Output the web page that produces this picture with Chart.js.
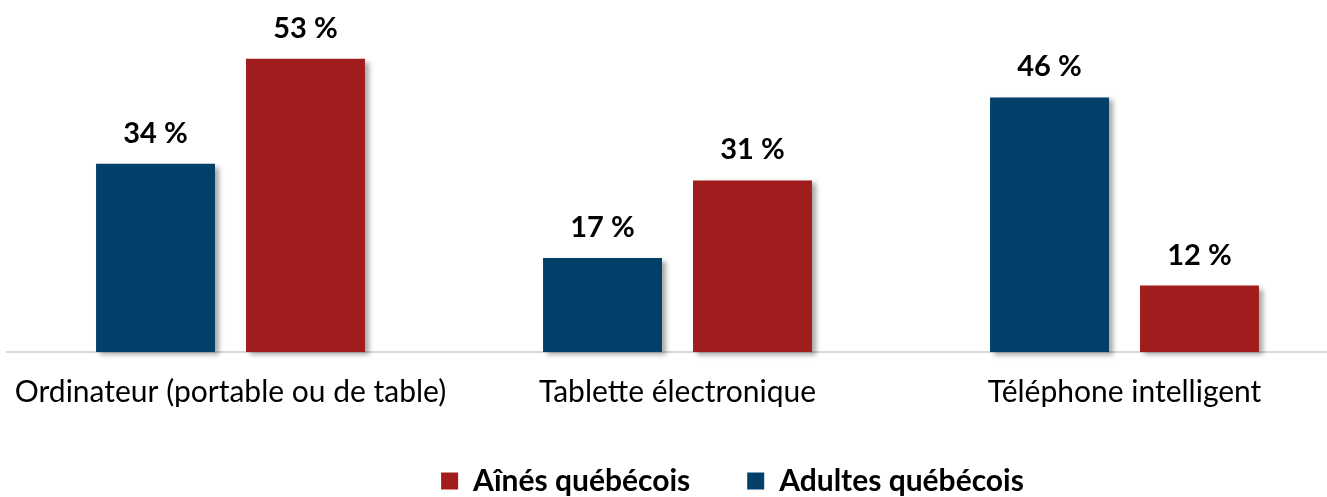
<!DOCTYPE html>
<html lang="fr">
<head>
<meta charset="utf-8">
<script src="https://cdn.jsdelivr.net/npm/chart.js@4.4.1/dist/chart.umd.min.js"></script>
<style>
  html, body { margin: 0; padding: 0; background: #fff; overflow: hidden; }
  #wrap { width: 1327px; height: 497px; overflow: hidden; }
</style>
</head>
<body>
<div id="wrap"><canvas id="deviceChart" width="1458" height="506"></canvas></div>
<script>
const categories = ['Ordinateur (portable ou de table)', 'Tablette électronique', 'Téléphone intelligent'];
const adultesValues = [34, 17, 46];
const ainesValues = [53, 31, 12];
const seriesNames = ['Adultes québécois', 'Aînés québécois'];

const FONT = 'Lato, "Open Sans", sans-serif';
const BLUE = '#02406a';
const RED = '#a11c1c';

// soft drop shadow under the bars
const barShadow = {
    id: 'barShadow',
    beforeDatasetsDraw(chart) {
        const c = chart.ctx;
        c.save();
        c.shadowColor = 'rgba(0,0,0,0.35)';
        c.shadowBlur = 5;
        c.shadowOffsetX = 4;
        c.shadowOffsetY = 3;
    },
    afterDatasetsDraw(chart) {
        chart.ctx.restore();
    }
};

// "NN %" above each bar
const valueLabels = {
    id: 'valueLabels',
    afterDatasetsDraw(chart) {
        const c = chart.ctx;
        c.save();
        c.font = `bold 29px ${FONT}`;
        c.fillStyle = '#000';
        c.textAlign = 'center';
        c.textBaseline = 'alphabetic';
        chart.data.datasets.forEach((ds, i) => {
            chart.getDatasetMeta(i).data.forEach((bar, j) => {
                c.fillText(`${ds.data[j]} %`, bar.x, bar.y - 21);
            });
        });
        c.restore();
    }
};

new Chart(document.getElementById('deviceChart'), {
    type: 'bar',
    data: {
        labels: categories,
        datasets: [
            { label: seriesNames[0], data: adultesValues, backgroundColor: BLUE, borderWidth: 0, clip: false },
            { label: seriesNames[1], data: ainesValues, backgroundColor: RED, borderWidth: 0, clip: false }
        ]
    },
    options: {
        responsive: false,
        animation: false,
        events: [],
        categoryPercentage: 0.671,
        barPercentage: 0.793,
        layout: { padding: { left: 7, right: 0, top: 20, bottom: 0 } },
        plugins: {
            legend: {
                position: 'bottom',
                reverse: true,
                labels: {
                    font: { family: FONT, size: 30, weight: 'bold' },
                    color: '#000',
                    boxWidth: 17,
                    boxHeight: 17,
                    padding: 57
                }
            },
            tooltip: { enabled: false }
        },
        scales: {
            x: {
                grid: { display: false, drawTicks: false },
                border: { display: true, color: '#d9d9d9', width: 2 },
                // small padding + tall line keeps the wide first label from pushing the plot right
                ticks: { font: { family: FONT, size: 30, lineHeight: '68px' }, color: '#000', padding: 6, maxRotation: 0 },
                afterFit: scale => { scale.height = 57; }
            },
            y: {
                position: 'right',
                min: 0,
                max: 60,
                grid: { display: false },
                border: { display: false },
                ticks: { display: false },
                afterFit: scale => { scale.width = 110; }
            }
        }
    },
    plugins: [barShadow, valueLabels]
});
</script>
</body>
</html>
